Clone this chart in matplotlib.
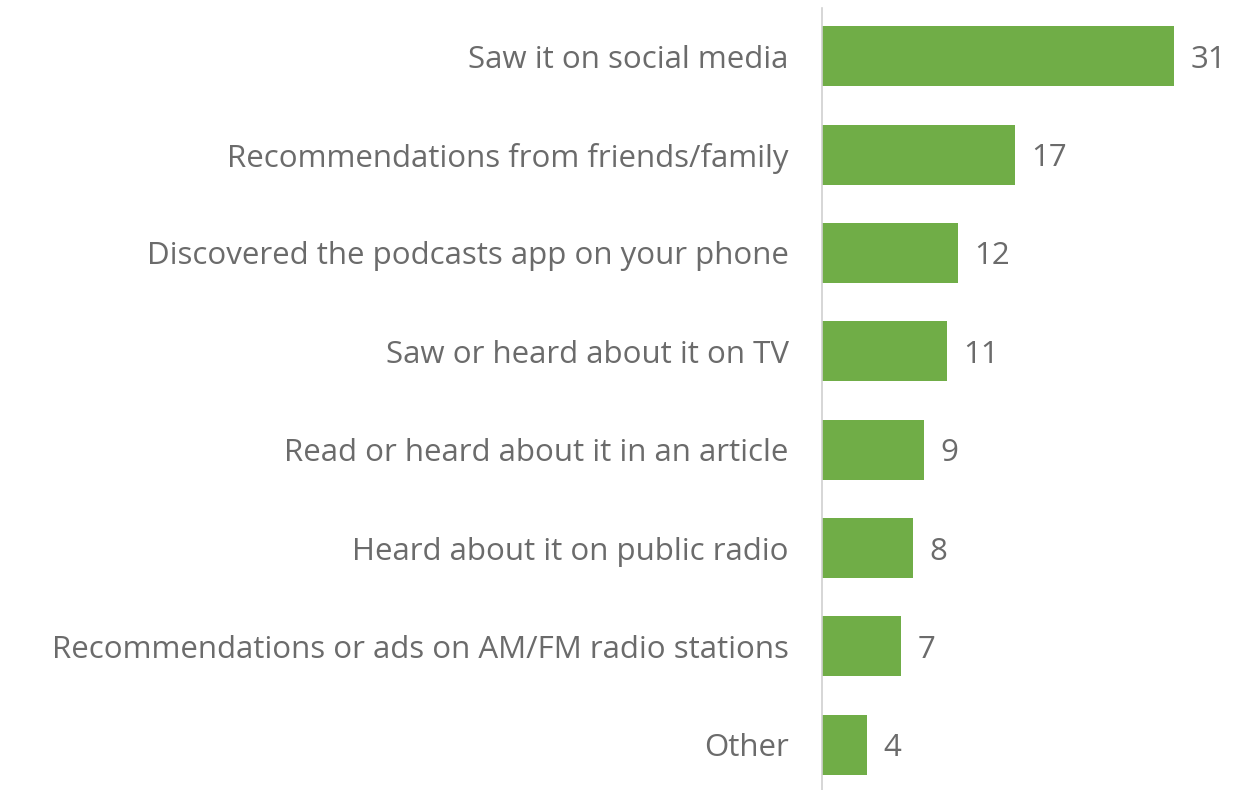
import matplotlib
matplotlib.use("Agg")
import matplotlib.pyplot as plt

categories = ["Saw it on social media", "Recommendations from friends/family",
              "Discovered the podcasts app on your phone", "Saw or heard about it on TV",
              "Read or heard about it in an article", "Heard about it on public radio",
              "Recommendations or ads on AM/FM radio stations", "Other"]
values = [31, 17, 12, 11, 9, 8, 7, 4]

plt.rcParams['font.family'] = ['Open Sans', 'DejaVu Sans']
text_color = "#6b6b6b"
bar_color = "#70AD47"
fs = 22.5

fig = plt.figure(figsize=(12.33, 7.9), dpi=100)
ax = fig.add_axes([822/1233, 0.0, 1 - 822/1233, 782/790])
ypos = list(range(len(categories)))
ax.barh(ypos, values, height=0.61, color=bar_color)
ax.set_xlim(0, 411/11.35)
ax.set_ylim(7.46, -0.49)
for y, v in zip(ypos, values):
    ax.text(v + 1.45, y, str(v), va='center_baseline', ha='left', fontsize=fs, color=text_color)
ax.set_yticks(ypos)
ax.set_yticklabels(categories, fontsize=fs, color=text_color, va='center_baseline')
ax.tick_params(axis='y', length=0, pad=24)
ax.set_xticks([])
for s in ['top', 'right', 'bottom']:
    ax.spines[s].set_visible(False)
ax.spines['left'].set_color('#d0d0d0')
ax.spines['left'].set_linewidth(1.2)
fig.savefig("out.png", dpi=100)
